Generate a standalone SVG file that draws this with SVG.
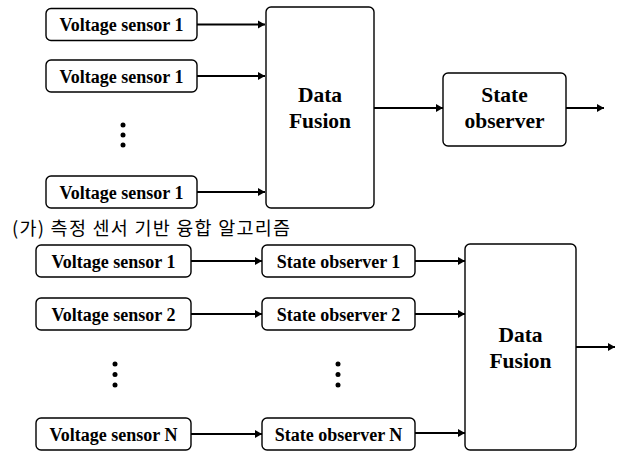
<svg xmlns="http://www.w3.org/2000/svg" width="617" height="452" viewBox="0 0 617 452">
<style>
.box{fill:#fff;stroke:#000;stroke-width:1.4}
.t{font-family:'Liberation Serif','Times New Roman','DejaVu Serif',serif;font-weight:700;font-size:18px;text-anchor:middle;fill:#000}
.tb{font-family:'Liberation Serif','Times New Roman','DejaVu Serif',serif;font-weight:700;font-size:21.5px;text-anchor:middle;fill:#000}
.cap{font-family:'Noto Sans CJK KR','Noto Sans',sans-serif;font-size:18.5px;fill:#000}
.ar{stroke:#000;stroke-width:2.2;fill:none;marker-end:url(#ah)}
.dot{fill:#000}
</style>
<defs>
<marker id="ah" markerUnits="userSpaceOnUse" markerWidth="10" markerHeight="10" refX="8" refY="5" orient="auto">
<path d="M1,1 L8,5 L1,9 Z" fill="#000"/>
</marker>
</defs>
<rect width="617" height="452" fill="#fff"/>

<g id="connectors">
<line class="ar" x1="197" y1="24.5" x2="265" y2="24.5"/>
<line class="ar" x1="197" y1="76" x2="265" y2="76"/>
<line class="ar" x1="197" y1="192" x2="265" y2="192"/>
<line class="ar" x1="374" y1="108" x2="443" y2="108"/>
<line class="ar" x1="566" y1="108" x2="604" y2="108"/>
<line class="ar" x1="191" y1="261" x2="262" y2="261"/>
<line class="ar" x1="191" y1="314" x2="262" y2="314"/>
<line class="ar" x1="191" y1="434" x2="262" y2="434"/>
<line class="ar" x1="415" y1="261" x2="465" y2="261"/>
<line class="ar" x1="415" y1="314" x2="465" y2="314"/>
<line class="ar" x1="415" y1="433" x2="465" y2="433"/>
<line class="ar" x1="576" y1="347" x2="615" y2="347"/>
</g>

<g id="vs1a"><rect class="box" x="46" y="8.5" width="151" height="32" rx="5"/><text class="t" x="121.5" y="31">Voltage sensor 1</text></g>
<g id="vs1b"><rect class="box" x="46" y="60" width="151" height="32" rx="5"/><text class="t" x="121.5" y="82.5">Voltage sensor 1</text></g>
<g id="vs1c"><rect class="box" x="46" y="176" width="151" height="32" rx="5"/><text class="t" x="121.5" y="198.5">Voltage sensor 1</text></g>
<g id="dots1"><circle class="dot" cx="123" cy="125" r="2.5"/><circle class="dot" cx="123" cy="135" r="2.5"/><circle class="dot" cx="123" cy="145" r="2.5"/></g>
<g id="df1"><rect class="box" x="266" y="7" width="108" height="201" rx="5"/><text class="tb" x="320" y="102">Data</text><text class="tb" x="320" y="128">Fusion</text></g>
<g id="so1"><rect class="box" x="443" y="73" width="123" height="73" rx="5"/><text class="tb" x="504.5" y="102">State</text><text class="tb" x="504.5" y="128">observer</text></g>

<g id="caption"><text class="cap" x="12" y="235" textLength="278" lengthAdjust="spacing">(가) 측정 센서 기반 융합 알고리즘</text></g>

<g id="vsb1"><rect class="box" x="36" y="245" width="155" height="32" rx="5"/><text class="t" x="113.5" y="267.5">Voltage sensor 1</text></g>
<g id="vsb2"><rect class="box" x="36" y="298" width="155" height="32" rx="5"/><text class="t" x="113.5" y="320.5">Voltage sensor 2</text></g>
<g id="vsbN"><rect class="box" x="36" y="418" width="155" height="32" rx="5"/><text class="t" x="113.5" y="440.5">Voltage sensor N</text></g>
<g id="sob1"><rect class="box" x="262" y="245" width="153" height="32" rx="5"/><text class="t" x="338.5" y="267.5">State observer 1</text></g>
<g id="sob2"><rect class="box" x="262" y="298" width="153" height="32" rx="5"/><text class="t" x="338.5" y="320.5">State observer 2</text></g>
<g id="sobN"><rect class="box" x="262" y="418" width="153" height="32" rx="5"/><text class="t" x="338.5" y="440.5">State observer N</text></g>
<g id="dots2"><circle class="dot" cx="115" cy="364" r="2.5"/><circle class="dot" cx="115" cy="374.5" r="2.5"/><circle class="dot" cx="115" cy="385" r="2.5"/></g>
<g id="dots3"><circle class="dot" cx="338" cy="364" r="2.5"/><circle class="dot" cx="338" cy="374.5" r="2.5"/><circle class="dot" cx="338" cy="385" r="2.5"/></g>
<g id="df2"><rect class="box" x="465" y="244" width="111" height="206" rx="5"/><text class="tb" x="520.5" y="342">Data</text><text class="tb" x="520.5" y="368">Fusion</text></g>
</svg>
